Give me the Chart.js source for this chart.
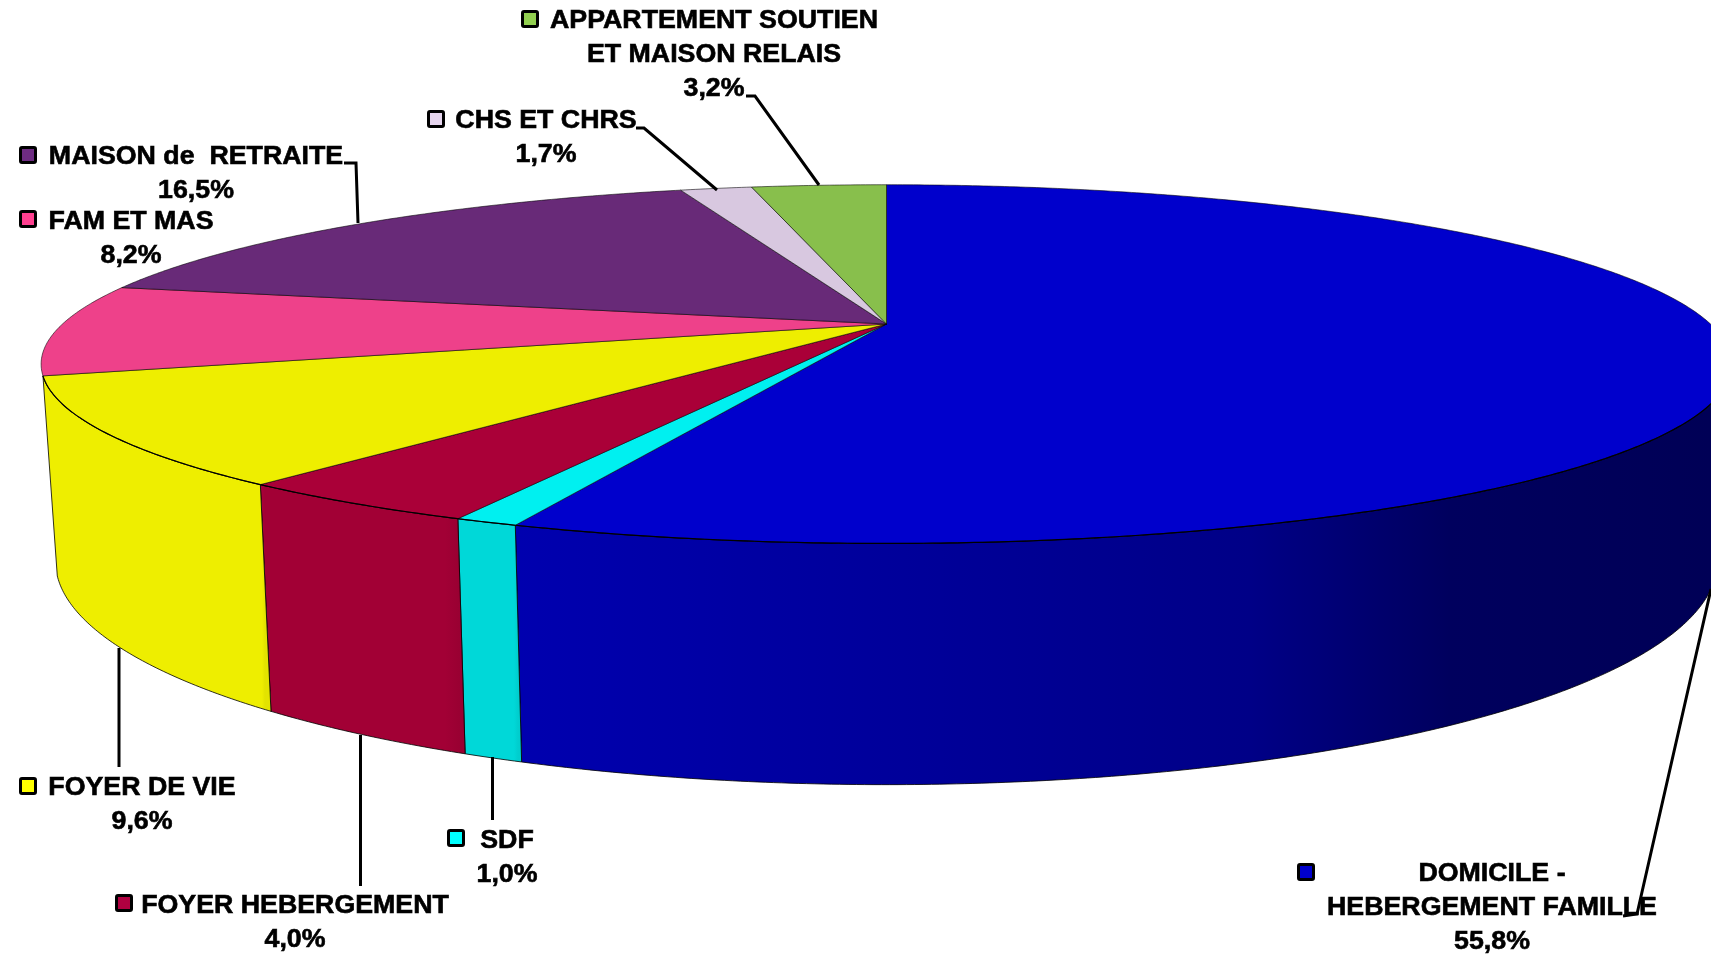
<!DOCTYPE html>
<html>
<head>
<meta charset="utf-8">
<title>Lieu de vie</title>
<script src="https://cdn.jsdelivr.net/npm/chart.js@4"></script>
<style>
    html, body { margin: 0; padding: 0; background: #ffffff; overflow: hidden; }
    canvas { display: block; }
</style>
</head>
<body>
<canvas id="pie" width="1711" height="954"></canvas>
<script>
// ===============================
// DATA
// ===============================

const categories = [
    ["DOMICILE -", "HEBERGEMENT FAMILLE"],
    ["SDF"],
    ["FOYER HEBERGEMENT"],
    ["FOYER DE VIE"],
    ["FAM ET MAS"],
    ["MAISON de  RETRAITE"],
    ["CHS ET CHRS"],
    ["APPARTEMENT SOUTIEN", "ET MAISON RELAIS"]
];
const shares = [55.8, 1.0, 4.0, 9.6, 8.2, 16.5, 1.7, 3.2];

const topColors = ["#0000cc", "#00f0f0", "#aa0038", "#eeee00", "#ee418a", "#682a78", "#d8c8e0", "#88bf4c"];
const keyColors = ["#0000cc", "#00ffff", "#b00040", "#ffff00", "#ff4090", "#6e2c82", "#e6d5ee", "#92d050"];

// label centre x, first baseline y, key x, key y
const labelSpots = [
    [1492, 881, 1297, 863],
    [507, 848, 447, 829],
    [295, 913, 115, 894],
    [142, 795, 19, 777],
    [131, 229, 19, 210],
    [196, 164, 19, 146],
    [546, 128, 427, 110],
    [714, 28, 521, 10]
];

const leaders = [
    [[1711, 589], [1637, 914], [1623, 916]],
    [[492.5, 757], [492.5, 820]],
    [[360.5, 735], [360.5, 886]],
    [[119, 648], [119, 767]],
    [[344, 163], [356, 163], [358, 223]],
    [[636, 128], [644, 128], [717, 190]],
    [[746, 96], [755, 96], [819, 185]]
];

// ===============================
// 3D VIEW OF THE PIE
// ===============================

const view = { cx: 886.5, cy: 324, rx: 824, ry: 170.4, k: 0.2235, depth: 187.3, shrink: 0.983 };

// where the right side of the drum turns away from the viewer
const wallFrom = Math.acos(-view.k) - Math.PI / 2;

// darkening of the side wall from left to right
const wallShade = [[40, 1], [262, 1], [265, 0.955], [445, 0.95], [460, 0.9], [514, 0.9], [518, 0.86], [886, 0.76], [1250, 0.66], [1450, 0.46], [1711, 0.42]];

function rimPoint(angle) {
    const t = angle + Math.PI / 2;
    const u = Math.sin(t), v = -Math.cos(t);
    const d = 1 - view.k * v;
    return { x: view.cx + view.rx * u / d, y: view.cy + view.ry * v / d, d: d };
}

function lowPoint(angle) {
    const p = rimPoint(angle);
    return { x: view.cx + (p.x - view.cx) * view.shrink, y: p.y + view.depth / p.d };
}

function arcAngles(a, b) {
    const list = [];
    const n = Math.max(2, Math.ceil((b - a) / 0.008));
    for (let i = 0; i <= n; i++) list.push(a + (b - a) * i / n);
    return list;
}

function shadeColor(hex, f) {
    const r = parseInt(hex.slice(1, 3), 16), g = parseInt(hex.slice(3, 5), 16), b = parseInt(hex.slice(5, 7), 16);
    return `rgb(${Math.round(r * f)},${Math.round(g * f)},${Math.round(b * f)})`;
}

function wallGradient(ctx, hex) {
    const g = ctx.createLinearGradient(40, 0, 1711, 0);
    wallShade.forEach(s => g.addColorStop((s[0] - 40) / 1671, shadeColor(hex, s[1])));
    return g;
}

function facesViewer(arc) {
    const mid = (arc.startAngle + arc.endAngle) / 2 + Math.PI / 2;
    return -Math.cos(mid) >= 0.1;
}

const pie3d = {
    id: "pie3d",
    beforeDatasetsDraw(chart) {
        const ctx = chart.ctx;
        const arcs = chart.getDatasetMeta(0).data;
        ctx.save();
        ctx.lineJoin = "round";

        // side walls, only the slices facing the viewer
        arcs.forEach((arc, i) => {
            if (!facesViewer(arc)) return;
            const angles = arcAngles(Math.max(arc.startAngle, wallFrom), arc.endAngle);
            ctx.beginPath();
            angles.forEach((a, j) => {
                const p = rimPoint(a);
                j ? ctx.lineTo(p.x, p.y) : ctx.moveTo(p.x, p.y);
            });
            angles.slice().reverse().forEach(a => {
                const p = lowPoint(a);
                ctx.lineTo(p.x, p.y);
            });
            ctx.closePath();
            ctx.fillStyle = wallGradient(ctx, topColors[i]);
            ctx.fill();
            ctx.strokeStyle = "rgba(0,0,0,0.8)";
            ctx.lineWidth = 1;
            ctx.stroke();
        });

        // top surface
        arcs.forEach((arc, i) => {
            ctx.beginPath();
            ctx.moveTo(view.cx, view.cy);
            arcAngles(arc.startAngle, arc.endAngle).forEach(a => {
                const p = rimPoint(a);
                ctx.lineTo(p.x, p.y);
            });
            ctx.closePath();
            ctx.fillStyle = topColors[i];
            ctx.fill();
            ctx.strokeStyle = "rgba(0,0,0,0.7)";
            ctx.lineWidth = 0.8;
            ctx.stroke();
        });

        // darker rim along the front
        arcs.forEach(arc => {
            if (!facesViewer(arc)) return;
            ctx.beginPath();
            arcAngles(Math.max(arc.startAngle, wallFrom), arc.endAngle).forEach((a, j) => {
                const p = rimPoint(a);
                j ? ctx.lineTo(p.x, p.y) : ctx.moveTo(p.x, p.y);
            });
            ctx.strokeStyle = "#000000";
            ctx.lineWidth = 1.2;
            ctx.stroke();
        });
        ctx.restore();
        return false;
    },
    afterDraw(chart) {
        const ctx = chart.ctx;
        ctx.save();

        leaders.forEach(line => {
            ctx.beginPath();
            line.forEach((p, j) => j ? ctx.lineTo(p[0], p[1]) : ctx.moveTo(p[0], p[1]));
            ctx.strokeStyle = "#000000";
            ctx.lineWidth = 3;
            ctx.stroke();
        });

        ctx.font = "bold 25px 'Liberation Sans', Arial, sans-serif";
        ctx.textAlign = "center";
        categories.forEach((lines, i) => {
            const spot = labelSpots[i];
            const rows = lines.concat(shares[i].toFixed(1).replace(".", ",") + "%");
            ctx.fillStyle = "#000000";
            ctx.strokeStyle = "#000000";
            ctx.lineWidth = 0.6;
            rows.forEach((row, r) => {
                ctx.save();
                ctx.translate(spot[0], spot[1] + r * 34);
                ctx.scale(1.07, 1);
                ctx.fillText(row, 0, 0);
                ctx.strokeText(row, 0, 0);
                ctx.restore();
            });

            ctx.fillStyle = keyColors[i];
            ctx.lineWidth = 3;
            ctx.beginPath();
            ctx.roundRect(spot[2] + 1.5, spot[3] + 1.5, 15, 15, 1.5);
            ctx.fill();
            ctx.stroke();
        });
        ctx.restore();
    }
};

// ===============================
// CHART
// ===============================

new Chart(document.getElementById("pie"), {
    type: "pie",
    data: {
        labels: categories.map(c => c.join(" ")),
        datasets: [{
            data: shares,
            backgroundColor: topColors,
            borderWidth: 0
        }]
    },
    options: {
        responsive: false,
        animation: false,
        plugins: {
            legend: { display: false },
            tooltip: { enabled: false }
        }
    },
    plugins: [pie3d]
});
</script>
</body>
</html>
